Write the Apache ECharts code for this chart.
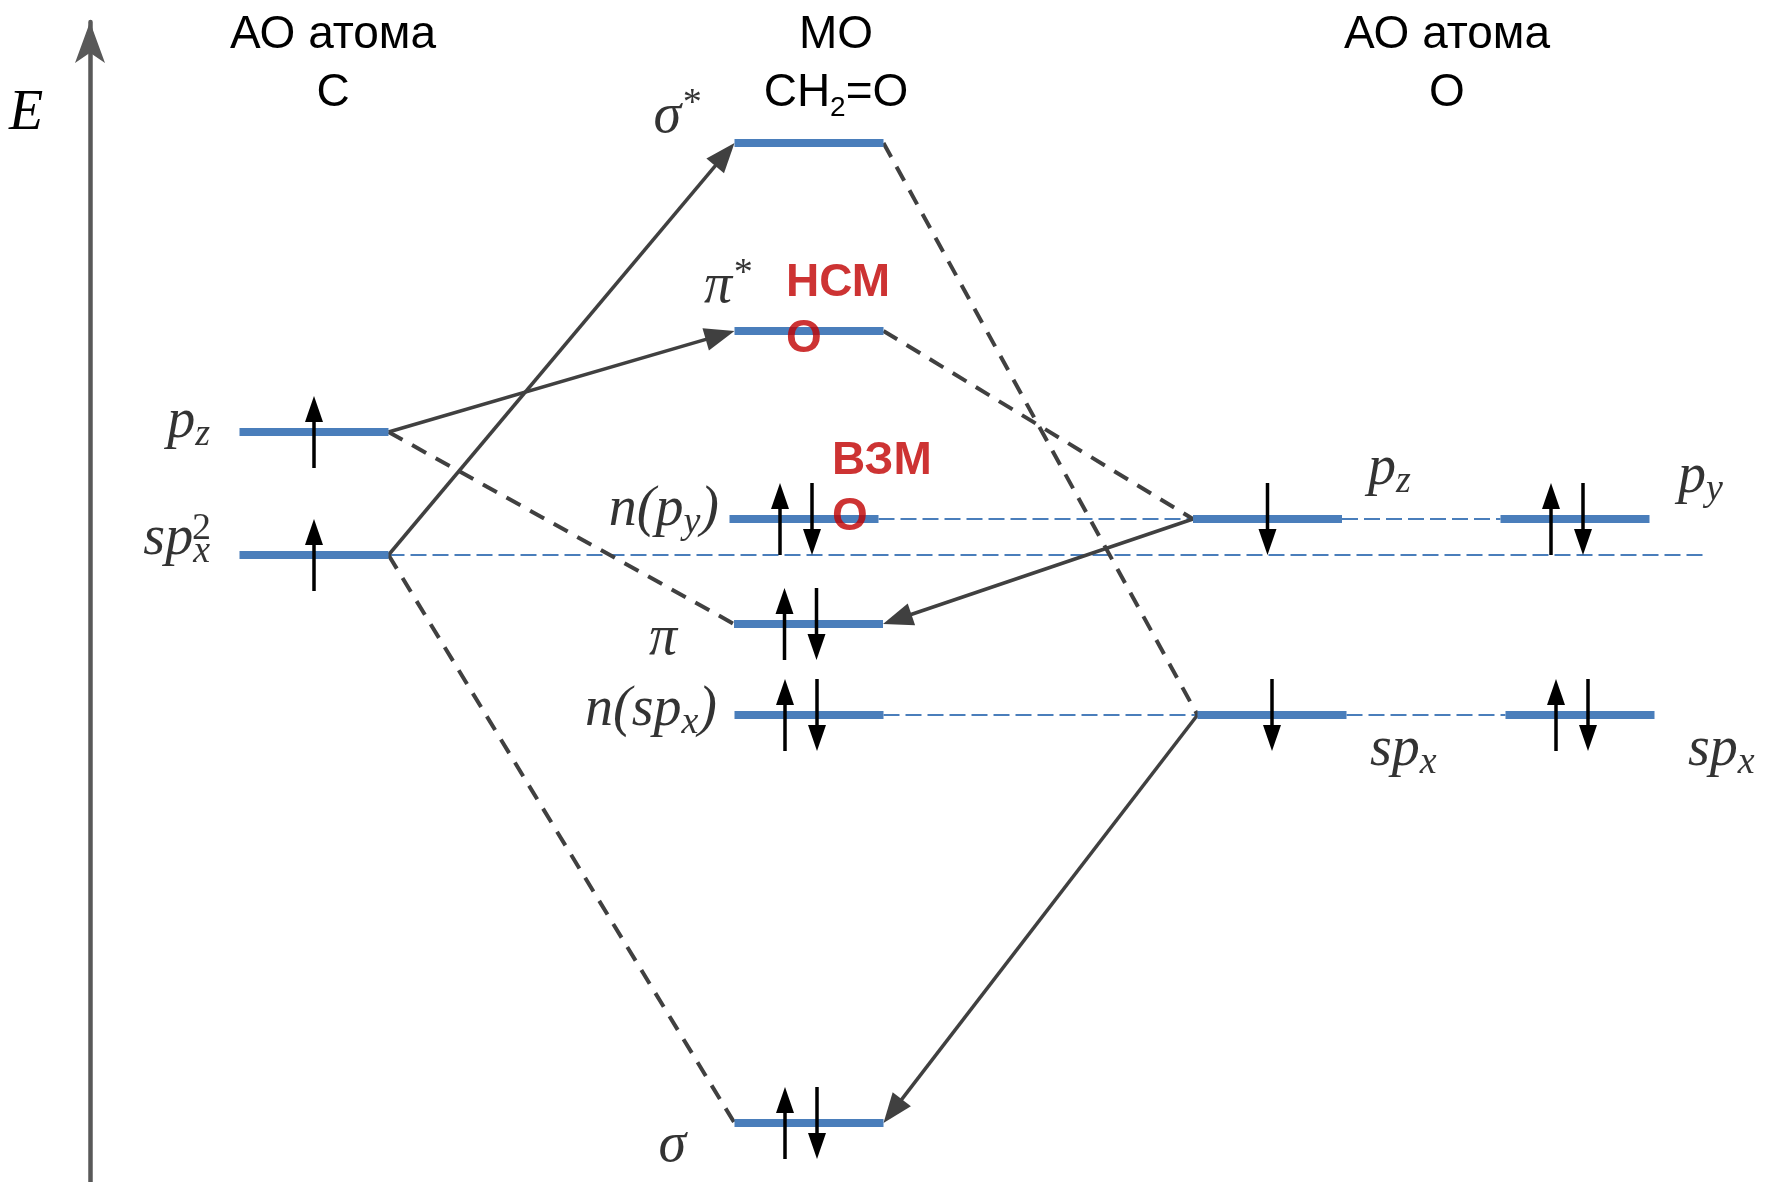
<!DOCTYPE html>
<html>
<head>
<meta charset="utf-8">
<script src="https://cdn.jsdelivr.net/npm/echarts@6/dist/echarts.min.js"></script>
<style>html,body{margin:0;padding:0;background:#fff}#chart{width:1773px;height:1182px}</style>
</head>
<body>
<div id="chart"></div>
<script>
// ---------------- data ----------------
// energy levels (arbitrary energy units) and the column slot (x) where each level sits
const levelNames  = ['p_z (C)', 'sp_x^2 (C)', 'σ*', 'π*', 'n(p_y)', 'π', 'n(sp_x)', 'σ', 'p_z (O)', 'p_y (O)', 'sp_x (O)', 'sp_x (O)'];
const levelSlot   = [3.14, 3.14, 8.09, 8.09, 8.04, 8.085, 8.09, 8.09, 12.675, 15.75, 12.72, 15.80];
const levelEnergy = [7.50, 6.27, 10.39, 8.51, 6.63, 5.58, 4.67, 0.59, 6.63, 6.63, 4.67, 4.67];
const levelSpins  = ['up', 'up', '', '', 'pair', 'pair', 'pair', 'pair', 'down', 'pair', 'down', 'pair'];
const levelLabels = ['{i|p}{sub|z}', '{i|sp}{sub|x}', '{i|σ}{sup|*}', '{i|π}{sup|*}', '{i|n(p}{sub|y}{i|)}', '{i|π}',
                     '{i|n(sp}{sub|x}{i|)}', '{i|σ}', '{i|p}{sub|z}', '{i|p}{sub|y}', '{i|sp}{sub|x}', '{i|sp}{sub|x}'];
// connections between levels: [from, to]
const correlationLinks = [[0, 5], [1, 7], [2, 10], [3, 8]];      // dashed dark lines
const transitionArrows = [[1, 2], [0, 3], [8, 5], [10, 7]];      // solid arrows
const guideLinks       = [[1, -1], [4, 8], [8, 9], [6, 10], [10, 11]]; // thin blue dashed (-1 = to guideEndSlot)
const guideEndSlot = 17.04;
const columnTitles = ['{t|АО атома}\n{t|C}', '{t|МО}\n{t|CH}{s|2}{t|=O}', '{t|АО атома}\n{t|O}'];
const frontierLabels = [[3, '{r|НСМ}\n{r|О}'], [4, '{r|ВЗМ}\n{r|О}']];
const axisTitle = 'E';

// ---------------- styles / layout ----------------
const BLUE = '#4A7EBB', DARK = '#404040';
const HALF = 74.5;
const labelPlace = [[-104, -10, 'right'], [-104, -16, 'right'], [-109, -25.5, 'right'], [-58, -43.5, 'right'],
  [-85, -8.5, 'right'], [-131.5, 15.5, 'right'], [-92, -4.5, 'right'], [-123, 23.5, 'right'],
  [100.5, -50, 'left'], [103, -42, 'left'], [98, 35, 'left'], [108, 35, 'left']];
const frontierPlace = [[-23, -20], [28, -30]];
const titlePlace = [333, 836, 1447];

const mathRich = {
  i:   {fontFamily: 'Liberation Serif', fontStyle: 'italic', fontSize: 56, lineHeight: 64, color: '#000'},
  sub: {fontFamily: 'Liberation Serif', fontStyle: 'italic', fontSize: 38, lineHeight: 33, verticalAlign: 'bottom', color: '#000'},
  sup: {fontFamily: 'Liberation Serif', fontStyle: 'italic', fontSize: 38, lineHeight: 52, verticalAlign: 'top', color: '#000'},
  n:   {fontFamily: 'Liberation Serif', fontSize: 38, color: '#000'},
  r:   {fontFamily: 'Liberation Sans', fontWeight: 'bold', fontSize: 46, lineHeight: 56, color: '#C00000'}
};

function spinArrow(x, y, dir) {
  const s = dir === 'up' ? -1 : 1;
  const tipY = y + s * 36, tailY = y - s * 36, baseY = tipY - s * 26;
  return [
    {type: 'line', shape: {x1: x, y1: tailY, x2: x, y2: baseY + s * 2}, style: {stroke: '#000', lineWidth: 3.5}},
    {type: 'polygon', shape: {points: [[x, tipY], [x - 9, baseY], [x + 9, baseY]]}, style: {fill: '#000'}}
  ];
}

function renderLevel(params, api) {
  const i = api.value(2);
  const c = api.coord([api.value(0), api.value(1)]);
  const children = [{type: 'line', shape: {x1: c[0] - HALF, y1: c[1], x2: c[0] + HALF, y2: c[1]},
    style: {stroke: BLUE, lineWidth: 8, lineCap: 'butt'}}];
  const spin = levelSpins[i];
  const list = spin === 'pair' ? [[c[0] - 24, 'up'], [c[0] + 8, 'down']] : (spin ? [[c[0], spin]] : []);
  list.forEach(function (e) { children.push.apply(children, spinArrow(e[0], c[1], e[1])); });
  return {type: 'group', children: children};
}

function linkEnds(api, barEnd) {
  const a = api.coord([api.value(0), api.value(1)]);
  const b = api.coord([api.value(2), api.value(3)]);
  const dir = b[0] > a[0] ? 1 : -1;
  const p1 = [a[0] + dir * HALF, a[1]];
  const p2 = barEnd ? [b[0] - dir * HALF, b[1]] : [b[0], b[1]];
  return [p1, p2];
}

function renderDashed(params, api) {
  const e = linkEnds(api, true);
  return {type: 'line', shape: {x1: e[0][0], y1: e[0][1], x2: e[1][0], y2: e[1][1]},
    style: {stroke: DARK, lineWidth: 4, lineDash: [16, 11]}};
}
function renderGuide(params, api) {
  const e = linkEnds(api, api.value(4) === 1);
  return {type: 'line', shape: {x1: e[0][0], y1: e[0][1], x2: e[1][0], y2: e[1][1]},
    style: {stroke: BLUE, lineWidth: 2, lineDash: [16, 6]}};
}
function renderArrow(params, api) {
  const e = linkEnds(api, true);
  const dx = e[1][0] - e[0][0], dy = e[1][1] - e[0][1];
  const L = Math.sqrt(dx * dx + dy * dy), ux = dx / L, uy = dy / L;
  const bx = e[1][0] - ux * 30, by = e[1][1] - uy * 30;
  return {type: 'group', children: [
    {type: 'line', shape: {x1: e[0][0], y1: e[0][1], x2: bx + ux * 2, y2: by + uy * 2}, style: {stroke: DARK, lineWidth: 3.5}},
    {type: 'polygon', shape: {points: [[e[1][0], e[1][1]], [bx - uy * 11.5, by + ux * 11.5], [bx + uy * 11.5, by - ux * 11.5]]},
      style: {fill: DARK}}
  ]};
}

const pairData = function (list) {
  return list.map(function (p) { return [levelSlot[p[0]], levelEnergy[p[0]], levelSlot[p[1]], levelEnergy[p[1]]]; });
};
const guideData = guideLinks.map(function (p) {
  return p[1] < 0 ? [levelSlot[p[0]], levelEnergy[p[0]], guideEndSlot, levelEnergy[p[0]], 0]
                  : [levelSlot[p[0]], levelEnergy[p[0]], levelSlot[p[1]], levelEnergy[p[1]], 1];
});

const labelData = levelNames.map(function (n, i) {
  return {name: n, value: [levelSlot[i], levelEnergy[i]],
    label: {formatter: levelLabels[i], position: [labelPlace[i][0], labelPlace[i][1]], align: labelPlace[i][2], verticalAlign: 'middle'}};
});
labelData.push({name: 'sp_x^2 superscript', value: [levelSlot[1], levelEnergy[1]],
  label: {formatter: '{n|2}', position: [-112.5, -26], align: 'center', verticalAlign: 'middle'}});
frontierLabels.forEach(function (f, k) {
  labelData.push({name: 'frontier' + k, value: [levelSlot[f[0]], levelEnergy[f[0]]],
    label: {formatter: f[1], position: frontierPlace[k], align: 'left', verticalAlign: 'middle'}});
});

const chart = echarts.init(document.getElementById('chart'));
chart.setOption({
  animation: false,
  backgroundColor: '#fff',
  grid: {left: 0, right: 0, top: 22, bottom: 0, containLabel: false},
  xAxis: {type: 'value', min: 0, max: 17.73, show: false},
  yAxis: {type: 'value', min: 0, max: 11.6, offset: -90,
    axisLine: {show: true, onZero: false, symbol: ['none', 'arrow'], symbolSize: [22.5, 41],
      lineStyle: {color: '#595959', width: 4.5}},
    axisTick: {show: false}, axisLabel: {show: false}, splitLine: {show: false}},
  graphic: columnTitles.map(function (t, k) {
    return {type: 'text', x: titlePlace[k], y: 64, silent: true,
      style: {text: t, align: 'center', verticalAlign: 'middle',
        rich: {t: {fontFamily: 'Liberation Sans', fontSize: 46, lineHeight: 58, fill: '#000'},
               s: {fontFamily: 'Liberation Sans', fontSize: 28, lineHeight: 8, verticalAlign: 'bottom', fill: '#000'}}}};
  }).concat([{type: 'text', x: 26, y: 114, silent: true,
    style: {text: axisTitle, font: 'italic 56px "Liberation Serif"', fill: '#000', align: 'center', verticalAlign: 'middle'}}]),
  series: [
    {type: 'custom', name: 'guides', z: 1, silent: true, renderItem: renderGuide, data: guideData, encode: {x: [0, 2], y: [1, 3]}},
    {type: 'custom', name: 'correlation', z: 2, silent: true, renderItem: renderDashed, data: pairData(correlationLinks), encode: {x: [0, 2], y: [1, 3]}},
    {type: 'custom', name: 'transitions', z: 3, silent: true, renderItem: renderArrow, data: pairData(transitionArrows), encode: {x: [0, 2], y: [1, 3]}},
    {type: 'custom', name: 'levels', z: 4, silent: true, renderItem: renderLevel,
      data: levelSlot.map(function (x, i) { return [x, levelEnergy[i], i]; }), encode: {x: 0, y: 1}},
    {type: 'scatter', name: 'labels', z: 5, silent: true, symbolSize: 0, itemStyle: {color: 'transparent'},
      label: {show: true, color: '#000', rich: mathRich}, data: labelData}
  ]
});
</script>
</body>
</html>
